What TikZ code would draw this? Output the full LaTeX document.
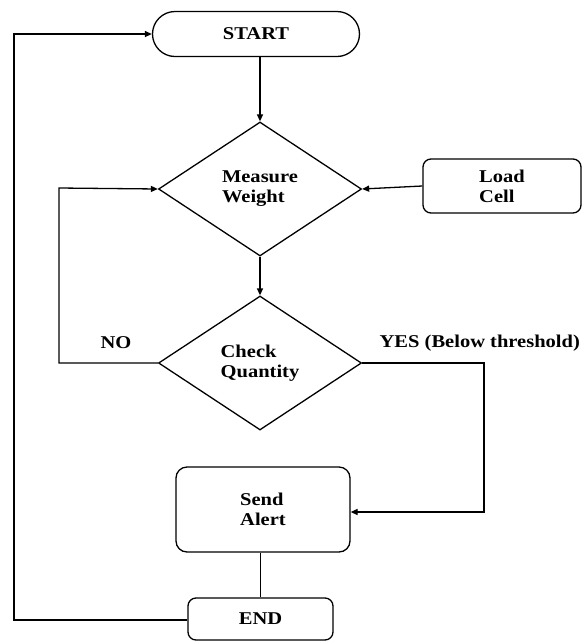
\documentclass[tikz,border=0pt]{standalone}
\usepackage{fontspec}
\setmainfont{Liberation Serif}[FakeStretch=1.14]
\usetikzlibrary{shapes.geometric,shapes.misc,arrows.meta}
\begin{document}
\begin{tikzpicture}[x=1pt,y=-1pt,line width=1.3pt,
  every node/.style={font=\fontsize{18}{20}\selectfont\bfseries,align=left},
  box/.style={draw,rectangle,rounded corners=11pt,inner sep=0pt},
  dia/.style={draw,diamond,inner sep=0pt,minimum width=203pt,minimum height=134pt},
  term/.style={draw,rounded rectangle,inner sep=0pt},
  arr/.style={-{Triangle[length=7pt,width=6pt]}},
  lbl/.style={inner sep=0pt}]
\useasboundingbox (0,0) rectangle (583,641);
\node[term,minimum width=207pt,minimum height=45pt] (start) at (256,34) {START};
\node[dia] (measure) at (260,189) {Measure\\Weight};
\node[dia] (check) at (260,363) {Check\\Quantity};
\node[box,rounded corners=8pt,minimum width=158pt,minimum height=54pt] (load) at (502,186) {Load\\Cell};
\node[box,minimum width=174pt,minimum height=85pt] (alert) at (263,509.5) {Send\\Alert};
\node[box,rounded corners=8pt,minimum width=145pt,minimum height=42pt] (endn) at (260.5,619) {END};
\node[lbl] (no) at (116,343) {NO};
\node[lbl,anchor=west] (yes) at (379,343) {YES (Below threshold)};
\coordinate (nol) at (59,363);
\coordinate (nou) at (59,188);
\coordinate (yesr) at (484,363);
\coordinate (yesd) at (484,512);
\coordinate (endl) at (14,620);
\coordinate (endu) at (14,34);
\draw[arr] (measure.north |- start.south) -- (measure.north);
\draw[arr] (load.west) -- (measure.east);
\draw[arr] (measure.south) -- (check.north);
\draw[arr] (check.west) -- (nol) -- (nou) -- (measure.west);
\draw[arr] (check.east) -- (yesr) -- (yesd) -- (alert.east |- yesd);
\draw (endn.north |- alert.south) -- (endn.north);
\draw[arr] (endn.west |- endl) -- (endl) -- (endu) -- (start.west);
\end{tikzpicture}
\end{document}
